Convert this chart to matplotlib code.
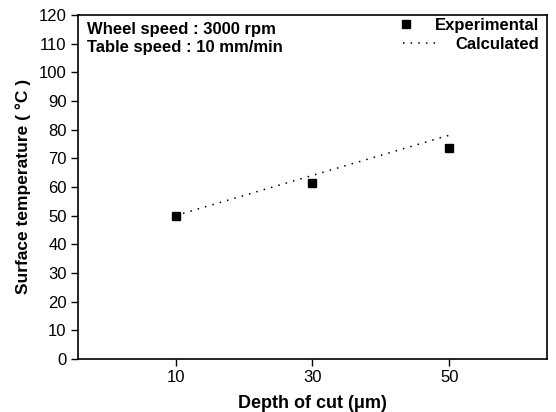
import matplotlib.pyplot as plt
from matplotlib.lines import Line2D

# Data
depth = [10, 30, 50]
exp_temp = [49.7, 61.5, 73.6]
calc_temp = [50.0, 64.0, 78.0]

plt.rcParams['font.family'] = ['Liberation Sans', 'DejaVu Sans']

fig = plt.figure(figsize=(5.56, 4.12), dpi=100)
ax = fig.add_axes([0.140, 0.129, 0.844, 0.835])

ax.plot(depth, calc_temp, color='black', linestyle=(0, (1, 4)), linewidth=1.1)
ax.plot(depth, exp_temp, linestyle='none', marker='s', markersize=6, color='black')

ax.set_xlim(-4.3, 64.3)
ax.set_ylim(0, 120)
ax.set_xticks(depth)
ax.set_yticks(range(0, 121, 10))
ax.tick_params(axis='both', direction='out', length=5, width=1, labelsize=12, pad=3)
ax.tick_params(top=False, right=False)
for s in ax.spines.values():
    s.set_linewidth(1.2)

ax.set_xlabel('Depth of cut (μm)', fontsize=13, fontweight='bold', labelpad=7)
ax.set_ylabel('Surface temperature ( °C )', fontsize=12.5, fontweight='bold', labelpad=6)

# conditions text
ax.text(0.02, 0.98, 'Wheel speed : 3000 rpm\nTable speed : 10 mm/min',
        transform=ax.transAxes, ha='left', va='top', fontsize=12,
        fontweight='bold', linespacing=1.3)

# legend, two pieces so the labels line up on the right
h1 = Line2D([], [], linestyle='none', marker='s', markersize=6, color='black')
h2 = Line2D([], [], color='black', linestyle=(0, (1, 4)), linewidth=1.1)
leg1 = ax.legend([h1], ['Experimental'], loc='upper right', frameon=False,
                 bbox_to_anchor=(1.016, 1.035), handlelength=1.5, handletextpad=1.0,
                 prop={'weight': 'bold', 'size': 12})
ax.add_artist(leg1)
ax.legend([h2], ['Calculated'], loc='upper right', frameon=False,
          bbox_to_anchor=(1.016, 0.98), handlelength=2.3, handletextpad=0.9,
          prop={'weight': 'bold', 'size': 12})

fig.savefig('out.png', dpi=100)
